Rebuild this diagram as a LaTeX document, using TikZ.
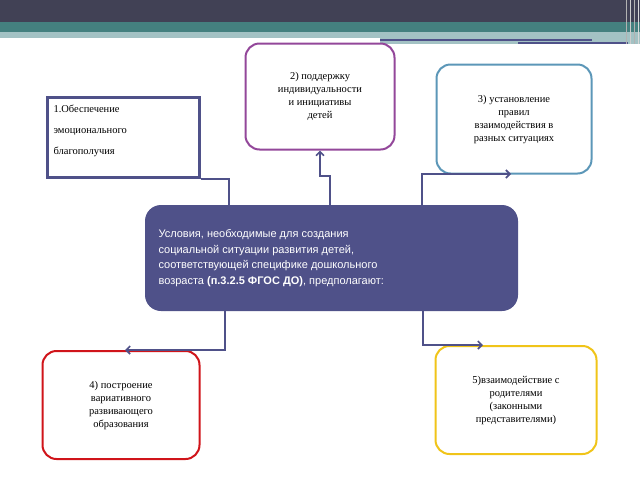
\documentclass[tikz,border=0pt]{standalone}
\usepackage{fontspec}
\setmainfont{Liberation Serif}
\newfontfamily\sansf{Liberation Sans}
\usetikzlibrary{arrows.meta}
\definecolor{hdr}{HTML}{414155}
\definecolor{teal1}{HTML}{44807F}
\definecolor{teal2}{HTML}{A3C2C4}
\definecolor{mainc}{HTML}{4F5189}
\definecolor{purp}{HTML}{93479A}
\definecolor{blu}{HTML}{5C97B8}
\definecolor{redc}{HTML}{D0141A}
\definecolor{yel}{HTML}{F0C419}
\begin{document}
\begin{tikzpicture}[x=1pt,y=-1pt,
  rbox/.style={draw,line width=2pt,rounded corners=14pt,fill=white,align=center,font=\fontsize{10.5}{13}\selectfont,inner sep=0pt},
  conn/.style={draw=mainc,line width=1.6pt},
  tip/.style={-{Straight Barb[length=4pt,width=8pt]}}]
\useasboundingbox (0,0) rectangle (640,480);
% header
\fill[hdr] (0,0) rectangle (640,22);
\fill[teal1] (0,22) rectangle (640,32);
\fill[teal2] (0,32) rectangle (380,38);
\fill[teal2] (380,32) rectangle (640,44);
\draw[mainc,line width=1.2pt] (380,40) -- (592,40);
\draw[mainc,line width=1.5pt] (518,43) -- (628,43);
\foreach \x/\c in {626/gray!60,630/gray!40,634/gray!60,638/gray!30}{\draw[\c,line width=1pt] (\x,0) -- (\x,44);}
% boxes
\node[rbox,draw=purp,minimum width=149pt,minimum height=106pt] (b2) at (320,96.5) {2) поддержку\\индивидуальности\\и инициативы\\детей};
\node[rbox,draw=blu,minimum width=155pt,minimum height=109pt] (b3) at (514,119) {3) установление\\правил\\взаимодействия в\\разных ситуациях};
\node[rbox,draw=redc,minimum width=157pt,minimum height=108pt] (b4) at (121,405) {4) построение\\вариативного\\развивающего\\образования};
\node[rbox,draw=yel,minimum width=161pt,minimum height=108pt] (b5) at (516,400) {5)взаимодействие с\\родителями\\(законными\\представителями)};
\node[draw=mainc,line width=3pt,fill=white,minimum width=152pt,minimum height=80pt,inner sep=0pt] (b1) at (123.5,137.5) {};
\node[anchor=north west,align=left,font=\fontsize{10.5}{13}\selectfont] (t1) at (50,101) {1.Обеспечение\\[8pt]эмоционального\\[8pt]благополучия};
\node[fill=mainc,rounded corners=16pt,minimum width=373pt,minimum height=106pt,inner sep=0pt] (m) at (331.5,258) {};
\node[anchor=west,text=white,align=left,font=\sansf\fontsize{11}{15.5}\selectfont] (mt) at (155,258) {Условия, необходимые для создания\\социальной ситуации развития детей,\\соответствующей специфике дошкольного\\возраста \textbf{(п.3.2.5 ФГОС ДО)}, предполагают:};
% connectors
\coordinate (c1) at (229,205);
\draw[conn] (b1.south east) -- (c1 |- b1.south east) -- (c1);
\draw[conn,tip] (330,205) -- (330,176) -- (320,176) -- (b2.south);
\draw[conn,tip] (422,205) -- (422,174) -- (511,174);
\draw[conn,tip] (225,311) -- (225,350) -- (125,350);
\draw[conn,tip] (423,311) -- (423,345) -- (483,345);
\end{tikzpicture}
\end{document}
